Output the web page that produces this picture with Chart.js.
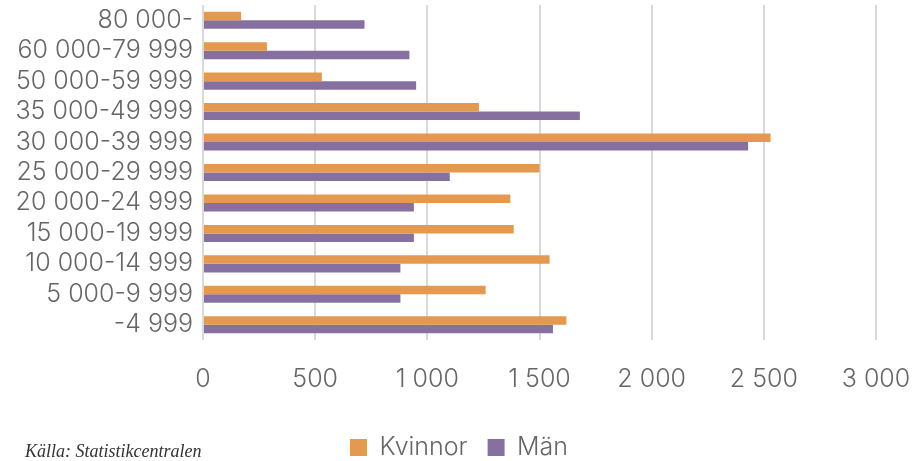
<!DOCTYPE html>
<html>
<head>
<meta charset="utf-8">
<script src="https://cdn.jsdelivr.net/npm/chart.js@4.4.1/dist/chart.umd.min.js"></script>
<style>
  html, body { margin: 0; padding: 0; background: #fff; }
  #wrap { position: relative; width: 917px; height: 461px; }
  #source {
    position: absolute; left: 25px; top: 441px;
    font-family: "Liberation Serif", "DejaVu Serif", serif;
    font-style: italic; font-size: 18px; color: #333;
  }
</style>
</head>
<body>
<div id="wrap">
  <canvas id="incomeChart" width="917" height="461"></canvas>
  <div id="source">Källa: Statistikcentralen</div>
</div>
<script>
// -----------------------------
// Data
// -----------------------------
const incomeGroups = [
  "80 000-", "60 000-79 999", "50 000-59 999", "35 000-49 999",
  "30 000-39 999", "25 000-29 999", "20 000-24 999", "15 000-19 999",
  "10 000-14 999", "5 000-9 999", "-4 999"
];
const women = [170, 285, 530, 1230, 2530, 1500, 1370, 1385, 1545, 1260, 1620];
const men = [720, 920, 950, 1680, 2430, 1100, 940, 940, 880, 880, 1560];
const xTicks = [0, 500, 1000, 1500, 2000, 2500, 3000];

function formatThousands(v) {
  return String(v).replace(/\B(?=(\d{3})+(?!\d))/g, " ");
}

const labelFont = { family: "Inter", size: 25, weight: 300 };
const labelColor = "#666666";

// legend is centred on the whole canvas, not just the area left of the right padding
const legendShift = {
  id: "legendShift",
  afterLayout(chart) {
    const lg = chart.legend;
    if (!lg) return;
    lg.left += 21;
    lg.right += 21;
  }
};

// -----------------------------
// Chart
// -----------------------------
document.addEventListener("DOMContentLoaded", () => {
  const ctx = document.getElementById("incomeChart");

  new Chart(ctx, {
    type: "bar",
    data: {
      labels: incomeGroups,
      datasets: [
        {
          label: "Kvinnor",
          data: women,
          backgroundColor: "#E3994F",
          barPercentage: 1,
          categoryPercentage: 0.56
        },
        {
          label: "Män",
          data: men,
          backgroundColor: "#8670A0",
          barPercentage: 1,
          categoryPercentage: 0.56
        }
      ]
    },
    options: {
      indexAxis: "y",
      responsive: false,
      animation: false,
      // negative bottom padding pushes the legend down to the canvas edge
      layout: { padding: { top: 5, right: 41, bottom: -9, left: 0 } },
      plugins: {
        tooltip: { enabled: false },
        legend: {
          position: "bottom",
          labels: {
            color: labelColor,
            font: labelFont,
            boxWidth: 17,
            boxHeight: 17,
            padding: 20
          }
        }
      },
      scales: {
        x: {
          min: 0,
          max: 3000,
          afterBuildTicks: scale => {
            scale.ticks = xTicks.map(v => ({ value: v }));
          },
          afterFit: scale => {
            scale.height = 75;
            scale.paddingLeft = 0;
            scale.paddingRight = 0;
          },
          grid: { color: "#D9D9D9", lineWidth: 2, drawTicks: false },
          border: { display: false },
          ticks: {
            color: labelColor,
            font: labelFont,
            padding: 24,
            maxRotation: 0,
            callback: v => formatThousands(v)
          }
        },
        y: {
          afterFit: scale => {
            scale.width = 203;
            scale.paddingTop = 0;
            scale.paddingBottom = 0;
          },
          grid: { display: false, drawTicks: false },
          border: { display: false },
          ticks: {
            color: labelColor,
            font: labelFont,
            padding: 10,
            autoSkip: false
          }
        }
      }
    },
    plugins: [legendShift]
  });
});
</script>
</body>
</html>
